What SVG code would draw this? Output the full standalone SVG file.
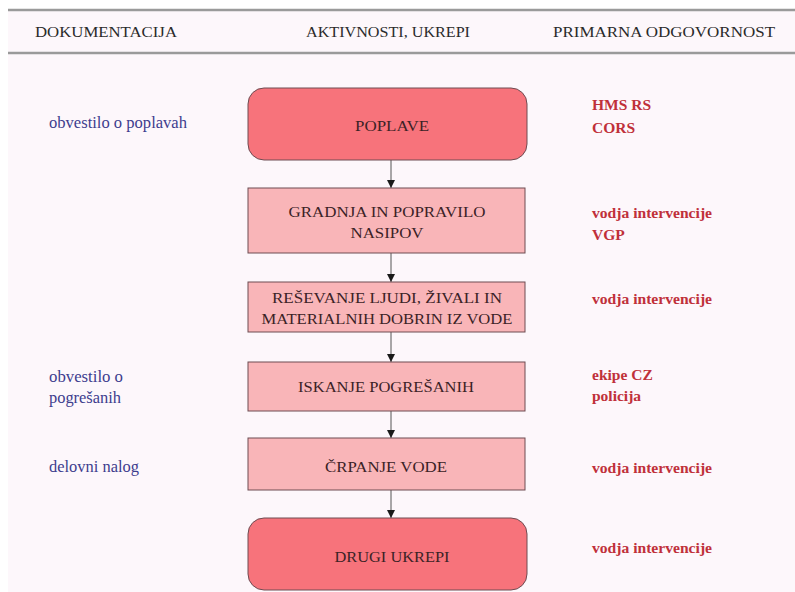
<svg xmlns="http://www.w3.org/2000/svg" width="795" height="592" viewBox="0 0 795 592">
  <style>
    text { font-family: 'Liberation Serif', 'DejaVu Serif', 'Times New Roman', serif; }
    .hdr { font-size: 15px; fill: #2a2a2a; }
    .box-text { font-size: 15px; fill: #3b2226; text-anchor: middle; }
    .doc { font-size: 16.2px; fill: #3d3d8e; }
    .resp { font-size: 15.5px; font-weight: bold; fill: #c0303a; }
    .strong { fill: #f7737b; stroke: #6e4c52; stroke-width: 1; }
    .soft { fill: #f9b5b8; stroke: #6e4c52; stroke-width: 1; }
    .rule { stroke: #9a9a9a; stroke-width: 2.5; }
    .edge { stroke: #555; stroke-width: 1; fill: none; marker-end: url(#arrow); }
  </style>
  <defs>
    <marker id="arrow" markerWidth="9" markerHeight="9" refX="8" refY="4.5" orient="auto" markerUnits="userSpaceOnUse">
      <path d="M0,0.5 L8,4.5 L0,8.5 Z" fill="#1a1a1a"/>
    </marker>
  </defs>

  <!-- page -->
  <rect x="0" y="0" width="795" height="592" fill="#ffffff"/>
  <rect x="8" y="9" width="787" height="583" fill="#fdf7fb"/>

  <!-- header band -->
  <g id="header">
    <line class="rule" x1="8" y1="10" x2="795" y2="10"/>
    <line class="rule" x1="8" y1="53" x2="795" y2="53"/>
    <text class="hdr" x="35" y="37" textLength="142" lengthAdjust="spacingAndGlyphs">DOKUMENTACIJA</text>
    <text class="hdr" x="306" y="37" textLength="164" lengthAdjust="spacingAndGlyphs">AKTIVNOSTI, UKREPI</text>
    <text class="hdr" x="553" y="37" textLength="222" lengthAdjust="spacingAndGlyphs">PRIMARNA ODGOVORNOST</text>
  </g>

  <!-- connectors -->
  <g id="connectors">
    <line class="edge" x1="391" y1="160" x2="391" y2="188"/>
    <line class="edge" x1="391" y1="253" x2="391" y2="282"/>
    <line class="edge" x1="391" y1="332" x2="391" y2="362"/>
    <line class="edge" x1="391" y1="411" x2="391" y2="438"/>
    <line class="edge" x1="391" y1="490" x2="391" y2="518"/>
  </g>

  <!-- activity nodes -->
  <g id="node-poplave">
    <rect class="strong" x="248" y="88" width="279" height="72" rx="16" ry="16"/>
    <text class="box-text" x="392" y="131" textLength="74" lengthAdjust="spacingAndGlyphs">POPLAVE</text>
  </g>
  <g id="node-gradnja">
    <rect class="soft" x="248" y="188" width="277" height="65"/>
    <text class="box-text" x="387" y="217" textLength="197" lengthAdjust="spacingAndGlyphs">GRADNJA IN POPRAVILO</text>
    <text class="box-text" x="387" y="238" textLength="73" lengthAdjust="spacingAndGlyphs">NASIPOV</text>
  </g>
  <g id="node-resevanje">
    <rect class="soft" x="248" y="282" width="277" height="50"/>
    <text class="box-text" x="387" y="303" textLength="230" lengthAdjust="spacingAndGlyphs">REŠEVANJE LJUDI, ŽIVALI IN</text>
    <text class="box-text" x="387" y="324" textLength="251" lengthAdjust="spacingAndGlyphs">MATERIALNIH DOBRIN IZ VODE</text>
  </g>
  <g id="node-iskanje">
    <rect class="soft" x="248" y="362" width="277" height="49"/>
    <text class="box-text" x="386" y="392" textLength="176" lengthAdjust="spacingAndGlyphs">ISKANJE POGREŠANIH</text>
  </g>
  <g id="node-crpanje">
    <rect class="soft" x="248" y="438" width="277" height="52"/>
    <text class="box-text" x="386" y="472" textLength="122" lengthAdjust="spacingAndGlyphs">ČRPANJE VODE</text>
  </g>
  <g id="node-drugi">
    <rect class="strong" x="248" y="518" width="279" height="72" rx="16" ry="16"/>
    <text class="box-text" x="392" y="562" textLength="115" lengthAdjust="spacingAndGlyphs">DRUGI UKREPI</text>
  </g>

  <!-- documentation column -->
  <g id="doc-poplave">
    <text class="doc" x="49" y="128" textLength="138" lengthAdjust="spacingAndGlyphs">obvestilo o poplavah</text>
  </g>
  <g id="doc-pogresani">
    <text class="doc" x="49" y="382" textLength="74" lengthAdjust="spacingAndGlyphs">obvestilo o</text>
    <text class="doc" x="49" y="403" textLength="72" lengthAdjust="spacingAndGlyphs">pogrešanih</text>
  </g>
  <g id="doc-nalog">
    <text class="doc" x="49" y="472" textLength="90" lengthAdjust="spacingAndGlyphs">delovni nalog</text>
  </g>

  <!-- responsibility column -->
  <g id="resp-poplave">
    <text class="resp" x="592" y="110">HMS RS</text>
    <text class="resp" x="592" y="133">CORS</text>
  </g>
  <g id="resp-gradnja">
    <text class="resp" x="592" y="218" textLength="120" lengthAdjust="spacingAndGlyphs">vodja intervencije</text>
    <text class="resp" x="592" y="240">VGP</text>
  </g>
  <g id="resp-resevanje">
    <text class="resp" x="592" y="304" textLength="120" lengthAdjust="spacingAndGlyphs">vodja intervencije</text>
  </g>
  <g id="resp-iskanje">
    <text class="resp" x="592" y="380">ekipe CZ</text>
    <text class="resp" x="592" y="401">policija</text>
  </g>
  <g id="resp-crpanje">
    <text class="resp" x="592" y="473" textLength="120" lengthAdjust="spacingAndGlyphs">vodja intervencije</text>
  </g>
  <g id="resp-drugi">
    <text class="resp" x="592" y="553" textLength="120" lengthAdjust="spacingAndGlyphs">vodja intervencije</text>
  </g>
</svg>
